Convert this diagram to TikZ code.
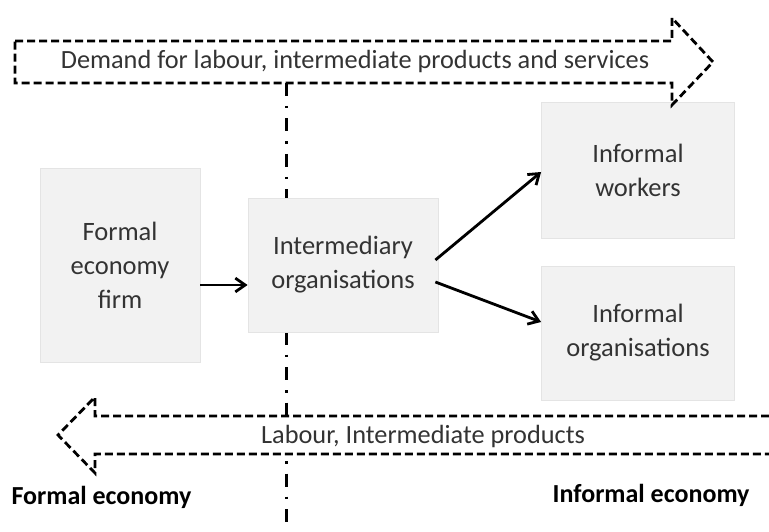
\documentclass[tikz,border=0pt]{standalone}
\usepackage{fontspec}
\setmainfont{Carlito}
\usetikzlibrary{arrows.meta}

\definecolor{boxgray}{HTML}{F2F2F2}
\definecolor{boxedge}{HTML}{E4E4E4}

\begin{document}
\begin{tikzpicture}[x=1pt, y=-1pt,
    box/.style={fill=boxgray, draw=boxedge, line width=0.8pt, align=center,
        text=black!80, inner sep=0pt, font=\fontsize{26.5}{34}\selectfont},
    flow/.style={-{Straight Barb[angle=70:12pt]}, line width=2.8pt},
    bigarrow/.style={draw, fill=white, line width=2.8pt, dash pattern=on 8pt off 4pt},
    divider/.style={line width=3pt, dash pattern=on 13pt off 10pt on 2.5pt off 10pt},
    flowtext/.style={font=\fontsize{26.3}{30}\selectfont, text=black!80},
    sidelabel/.style={font=\fontsize{26}{30}\selectfont\bfseries}]
    \useasboundingbox (0,0) rectangle (769,532);

    % Border between formal and informal side
    \coordinate (divtop) at (286,83);
    \coordinate (divbot) at (286,532);
    \draw[divider] (divtop) -- (divbot);

    % Boxes
    \node[box, minimum width=160pt, minimum height=194pt] (firm) at (120,265) {Formal\\economy\\firm};
    \node[box, minimum width=190pt, minimum height=134pt] (inter) at (343,265) {Intermediary\\organisations};
    \node[box, minimum width=193pt, minimum height=136pt] (workers) at (638,170) {Informal\\workers};
    \node[box, minimum width=193pt, minimum height=134pt] (orgs) at (638,333) {Informal\\organisations};

    % Arrows between boxes
    \draw[flow] ([yshift=-20pt]firm.east) -- ([yshift=-20pt]inter.west);
    \draw[flow] ([shift={(-3pt,5pt)}]inter.east) -- ([yshift=-2pt]workers.west);
    \draw[flow] ([shift={(-3pt,-17pt)}]inter.east) -- ([yshift=11pt]orgs.west);

    % Demand (formal -> informal)
    \draw[bigarrow] (15,41) -- (672,41) -- (672,18) -- (713,62) -- (672,105) -- (672,83) -- (15,83) -- cycle;
    \node[flowtext] (demand) at (355,61) {Demand for labour, intermediate products and services};

    % Supply (informal -> formal)
    \draw[bigarrow] (769,416) -- (95,416) -- (95,397) -- (58,435) -- (95,473) -- (95,454) -- (769,454);
    \node[flowtext] (supply) at (423,436) {Labour, Intermediate products};

    % Side labels
    \node[sidelabel, anchor=west] (formal) at (8,497) {Formal economy};
    \node[sidelabel, anchor=east] (informal) at (753,495) {Informal economy};
\end{tikzpicture}
\end{document}
